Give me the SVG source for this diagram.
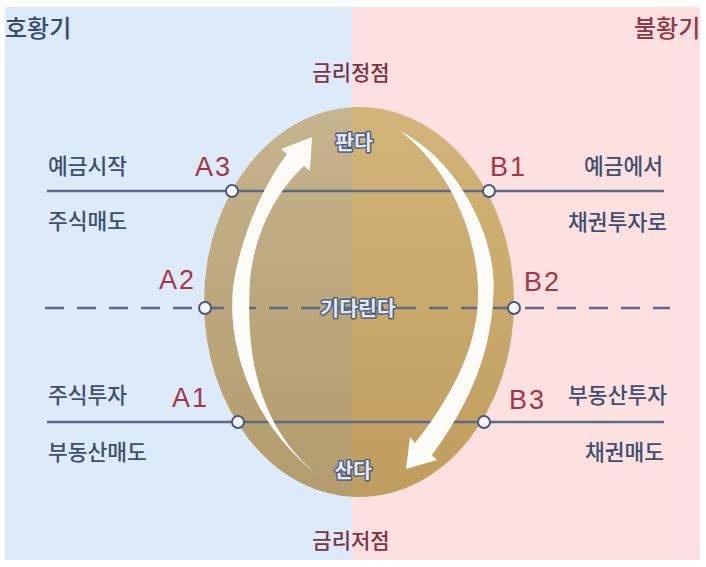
<svg xmlns="http://www.w3.org/2000/svg" width="706" height="567" viewBox="0 0 706 567">
<style>
.side{font-family:"Noto Sans CJK KR","Noto Sans",sans-serif;font-size:21.5px;font-weight:500;fill:#3f4f6e}
.pt{font-family:"Liberation Sans","Noto Sans",sans-serif;font-size:27px;letter-spacing:2px;fill:#a63646}
.rate{font-family:"Noto Sans CJK KR",sans-serif;font-size:21px;font-weight:500;fill:#7c3446;text-anchor:middle}
.inner{font-family:"Noto Sans CJK KR",sans-serif;font-size:20.5px;font-weight:700;fill:#e2e9f3;stroke:#4d5e80;stroke-width:3;paint-order:stroke;stroke-linejoin:round;text-anchor:middle}
.title{font-family:"Noto Sans CJK KR",sans-serif;font-size:24px;font-weight:500}
.line{stroke:#5c6a86;stroke-width:2.5;fill:none}
.dot{fill:#f4f8fc;stroke:#4a5a78;stroke-width:2}
.arrow{fill:#fdfcf8}
</style>
<defs>
<linearGradient id="gl" x1="0" y1="0" x2="0" y2="1">
<stop offset="0" stop-color="#c6b48e"/><stop offset="1" stop-color="#b39b6c"/>
</linearGradient>
<linearGradient id="gr" x1="0" y1="0" x2="0" y2="1">
<stop offset="0" stop-color="#d3b579"/><stop offset="1" stop-color="#bf9d5f"/>
</linearGradient>
<clipPath id="cl"><rect x="0" y="0" width="352" height="567"/></clipPath>
<clipPath id="cr"><rect x="352" y="0" width="354" height="567"/></clipPath>
</defs>
<rect x="0" y="0" width="706" height="567" fill="#ffffff"/>
<rect x="5" y="7" width="347" height="553" fill="#dceaf9"/>
<rect x="352" y="7" width="348" height="553" fill="#fde0e0"/>
<g id="egg">
<ellipse cx="359" cy="302" rx="155" ry="195" fill="url(#gl)" clip-path="url(#cl)"/>
<ellipse cx="359" cy="302" rx="155" ry="195" fill="url(#gr)" clip-path="url(#cr)"/>
</g>
<g id="connectors">
<line class="line" x1="47" y1="191" x2="664" y2="191"/>
<line class="line" x1="45" y1="308" x2="670" y2="308" stroke-dasharray="19 13"/>
<line class="line" x1="47" y1="422" x2="664" y2="422"/>
<path id="arrow-up" class="arrow" d="M320 477 C245 420 222 330 236 270 C246 225 264 185 287 154 L281 149 L312 137 L310 171 L304 166 C278 190 255 230 250 280 C246 350 255 425 320 477 Z"/>
<path id="arrow-down" class="arrow" d="M400 131 C458 160 500 240 493 300 C490 360 465 410 432 455 L437 460 L406 469 L410 437 L415 443 C445 405 476 355 478 300 C480 240 452 170 400 131 Z"/>
</g>
<g id="title-left"><text class="title" x="5" y="37" fill="#3b4b6b">호황기</text></g>
<g id="title-right"><text class="title" x="634" y="37" fill="#8e3a4c">불황기</text></g>
<g id="rate-top"><text class="rate" x="351" y="80">금리정점</text></g>
<g id="rate-bottom"><text class="rate" x="351" y="548">금리저점</text></g>
<g id="sell"><text class="inner" x="354" y="150">판다</text></g>
<g id="wait"><text class="inner" x="358" y="316">기다린다</text></g>
<g id="buy"><text class="inner" x="353" y="478">산다</text></g>
<g id="left-labels">
<text class="side" x="48" y="174">예금시작</text>
<text class="side" x="48" y="229">주식매도</text>
<text class="side" x="48" y="403">주식투자</text>
<text class="side" x="48" y="460">부동산매도</text>
</g>
<g id="right-labels" text-anchor="end">
<text class="side" x="663" y="174">예금에서</text>
<text class="side" x="667" y="230">채권투자로</text>
<text class="side" x="667" y="403">부동산투자</text>
<text class="side" x="664" y="460">채권매도</text>
</g>
<g id="A3"><circle class="dot" cx="232" cy="191" r="6"/><text class="pt" x="195" y="176">A3</text></g>
<g id="B1"><circle class="dot" cx="489" cy="191" r="6"/><text class="pt" x="490" y="176">B1</text></g>
<g id="A2"><circle class="dot" cx="205" cy="308" r="6"/><text class="pt" x="159" y="289">A2</text></g>
<g id="B2"><circle class="dot" cx="514" cy="308" r="6"/><text class="pt" x="524" y="291">B2</text></g>
<g id="A1"><circle class="dot" cx="238" cy="422" r="6"/><text class="pt" x="172" y="407">A1</text></g>
<g id="B3"><circle class="dot" cx="484" cy="422" r="6"/><text class="pt" x="509" y="409">B3</text></g>
</svg>
